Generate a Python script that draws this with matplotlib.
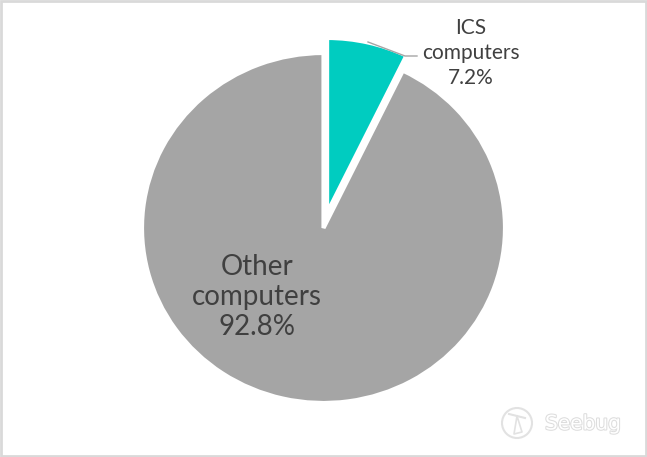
import matplotlib.pyplot as plt
import matplotlib.patheffects as pe
from matplotlib.patches import Rectangle, Ellipse

labels = ['ICS\ncomputers\n7.2%', 'Other\ncomputers\n92.8%']
shares = [7.2, 92.8]
colors = ['#00CCC0', '#A5A5A5']

W, H = 647, 457
S = 175 / 181.5  # the source image is slightly squashed vertically


def yd(py):
    # pixel row (from top) -> data y
    return (H - py) / S


fig = plt.figure(figsize=(W / 100, H / 100), dpi=100)
ax = fig.add_axes([0, 0, 1, 1])

cx, cy, r = 323.5, yd(228), 181.5
wedges, _ = ax.pie(shares, colors=colors, startangle=90, counterclock=False,
                   explode=[16, 0], center=(cx, cy), radius=r,
                   wedgeprops=dict(edgecolor='white', linewidth=3))
ax.set_xlim(0, W)
ax.set_ylim(0, H / S)
ax.set_aspect('auto')
ax.axis('off')

txt = '#404040'
font = 'Lato'
# ICS label with leader line
ax.plot([368, 405, 417], [yd(42), yd(56), yd(56)], color='#A5A5A5', lw=1)
ax.text(471, yd(53), labels[0], ha='center', va='center', fontsize=15,
        color=txt, family=font, linespacing=1.3)
ax.text(257, yd(297), labels[1], ha='center', va='center', fontsize=20,
        color=txt, family=font, linespacing=1.2)

# frame
ax.add_patch(Rectangle((1, yd(H - 1)), W - 2, yd(1) - yd(H - 1), fill=False,
                       edgecolor='#D9D9D9', lw=2))

# watermark
ax.add_patch(Ellipse((517, yd(423)), 30, 30 / S, fill=False, edgecolor='#E2E2E2', lw=1.5))
ax.plot([509, 525], [yd(414), yd(418)], color='#E2E2E2', lw=1.5)
ax.plot([517, 514, 522, 517], [yd(416), yd(434), yd(432), yd(416)], color='#E2E2E2', lw=1.2)
ax.text(545, yd(424), 'Seebug', ha='left', va='center', fontsize=14.5, color='white',
        family='DejaVu Sans',
        path_effects=[pe.withStroke(linewidth=1.5, foreground='#DDDDDD')])

fig.savefig('out.png', dpi=100)
